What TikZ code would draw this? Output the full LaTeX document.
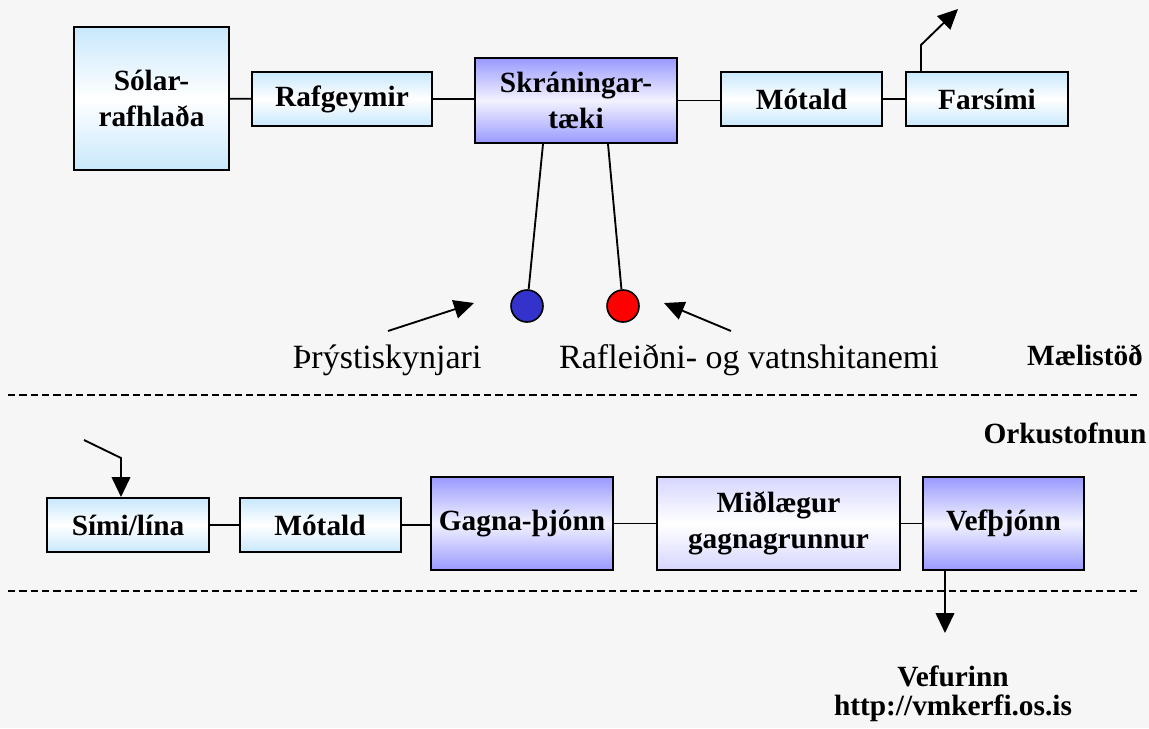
\documentclass[tikz,border=0pt]{standalone}
\usepackage{fontspec}
\setmainfont{Liberation Serif}
\usetikzlibrary{arrows.meta}

\definecolor{boxblue}{RGB}{200,232,252}
\definecolor{boxviolet}{RGB}{153,153,255}
\definecolor{boxlilac}{RGB}{214,214,255}
\definecolor{sensblue}{RGB}{51,51,204}

\begin{document}
\begin{tikzpicture}[x=0.75pt,y=0.75pt,yscale=-1,xscale=1,
	blok/.style={draw,line width=1.5pt,inner sep=0.75pt,align=center,font=\fontsize{22}{27}\selectfont\bfseries},
	bla/.style={blok,top color=boxblue,bottom color=boxblue,middle color=white},
	fjola/.style={blok,top color=boxviolet,bottom color=boxviolet,middle color=boxviolet!12},
	ljos/.style={blok,top color=boxlilac,bottom color=boxlilac,middle color=white},
	nemi/.style={circle,draw,line width=1.2pt,minimum size=24pt,inner sep=0pt},
	merki/.style={inner sep=0.75pt,font=\fontsize{22}{22}\selectfont\bfseries},
	heiti/.style={inner sep=0.75pt,font=\fontsize{25.5}{30}\selectfont},
	tengi/.style={line width=1.4pt},
	orv/.style={line width=1.4pt,-{Triangle[length=15pt,width=14pt]}},
	skil/.style={line width=1pt,dash pattern={on 5.5pt off 3pt}}]
	\fill[gray!7] (0,0) rectangle (1149,728);
	\useasboundingbox (0,0) rectangle (1149,728);
	% maelistod
	\node[bla,minimum width=116.25pt,minimum height=107.25pt] (solar) at (151.5,98.5) {Sólar-\\rafhlaða};
	\node[bla,minimum width=135pt,minimum height=40.5pt] (rafgeymir) at (342,99) {Rafgeymir};
	\node[fjola,minimum width=151.5pt,minimum height=63.75pt] (skraning) at (576,100.5) {Skráningar-\\tæki};
	\node[bla,minimum width=120.75pt,minimum height=40.5pt] (motald) at (801.5,99) {Mótald};
	\node[bla,minimum width=121.5pt,minimum height=40.5pt] (farsimi) at (987,99) {Farsími};
	\node[nemi,fill=sensblue] (thrysti) at (527,306) {};
	\node[nemi,fill=red] (rafleidni) at (623,306) {};
	\draw[tengi] (solar) -- (rafgeymir);
	\draw[tengi] (rafgeymir.east) -- (rafgeymir.east -| skraning.west);
	\draw[tengi] (skraning.east) -- (skraning.east -| motald.west);
	\draw[tengi] (motald) -- (farsimi);
	\draw[tengi] ([xshift=-24.75pt]skraning.south) -- (thrysti);
	\draw[tengi] ([xshift=24pt]skraning.south) -- (rafleidni);
	\coordinate (fbeygja) at (921,45);
	\coordinate (fut) at (958,9);
	\draw[orv] (fbeygja |- farsimi.north) -- (fbeygja) -- (fut);
	\node[heiti,anchor=base] (thryheiti) at (387,368) {Þrýstiskynjari};
	\node[heiti,anchor=base] (rafheiti) at (749,368) {Rafleiðni- og vatnshitanemi};
	\coordinate (thryfra) at (388,331);
	\coordinate (thryodd) at (474,303);
	\coordinate (raffra) at (731,331);
	\coordinate (rafodd) at (664,303);
	\draw[orv] (thryfra) -- (thryodd);
	\draw[orv] (raffra) -- (rafodd);
	\node[merki,anchor=base] (maelistod) at (1085,365) {Mælistöð};
	\draw[skil] (8,395) -- (1141,395);
	% orkustofnun
	\node[merki,anchor=base] (orkustofnun) at (1065,443) {Orkustofnun};
	\node[bla,minimum width=121.5pt,minimum height=40.5pt] (simi) at (128,525) {Sími/lína};
	\node[bla,minimum width=120.75pt,minimum height=40.5pt] (motaldb) at (320,525) {Mótald};
	\node[fjola,minimum width=136.5pt,minimum height=69.75pt] (gagna) at (522,523.5) {Gagna-þjónn};
	\node[ljos,minimum width=182.25pt,minimum height=69.75pt] (midlaegur) at (778.5,523.5) {Miðlægur\\gagnagrunnur};
	\node[fjola,minimum width=120.75pt,minimum height=69.75pt] (vef) at (1003.5,523.5) {Vefþjónn};
	\draw[tengi] (simi) -- (motaldb);
	\draw[tengi] (motaldb.east) -- (motaldb.east -| gagna.west);
	\draw[tengi] (gagna) -- (midlaegur);
	\draw[tengi] (midlaegur) -- (vef);
	\coordinate (sfra) at (84,440);
	\coordinate (sbeygja) at (121,458);
	\draw[orv] (sfra) -- (sbeygja) -- (sbeygja |- simi.north);
	\draw[skil] (8,591) -- (1141,591);
	\coordinate (vefodd) at (945,633);
	\draw[orv] (vefodd |- vef.south) -- (vefodd);
	\node[merki,align=center] (vefurinn) at (953,694) {Vefurinn\\http://vmkerfi.os.is};
\end{tikzpicture}
\end{document}
